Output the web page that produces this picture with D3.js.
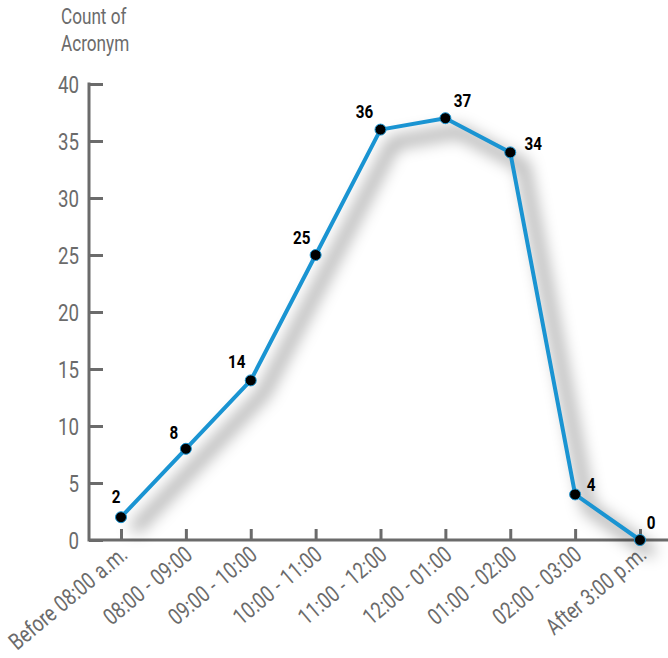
<!DOCTYPE html>
<html>
<head>
<meta charset="utf-8">
<script src="https://cdn.jsdelivr.net/npm/d3@7"></script>
<style>
  html, body { margin: 0; padding: 0; background: #fff; }
  svg { display: block; }
</style>
</head>
<body>
<svg id="chart" width="668" height="658"></svg>
<script>
// Time slots along the x axis
const categories = ["Before 08:00 a.m.", "08:00 - 09:00", "09:00 - 10:00", "10:00 - 11:00",
  "11:00 - 12:00", "12:00 - 01:00", "01:00 - 02:00", "02:00 - 03:00", "After 3:00 p.m."];
// Count of Acronym per slot
const counts = [2, 8, 14, 25, 36, 37, 34, 4, 0];
// Y axis ticks
const yTicks = [0, 5, 10, 15, 20, 25, 30, 35, 40];
// Offsets of each value label's baseline centre from its point
const labelOffsets = [[-5, -14], [-12, -10], [-14, -12], [-14, -11], [-16, -12],
  [17, -11], [23, -2], [16, -3], [11, -11]];

const svg = d3.select("#chart");
const font = "Roboto, 'DejaVu Sans', sans-serif";
const narrow = 0.78;           // horizontal squeeze for a condensed look
const axisColor = "#6b6b6b";

const x = d3.scalePoint().domain(categories).range([121, 640]);
const y = d3.scaleLinear().domain([0, 40]).range([540, 84]);

const defs = svg.append("defs");
const f = defs.append("filter").attr("id", "soft").attr("x", "-30%").attr("y", "-30%")
  .attr("width", "160%").attr("height", "160%");
f.append("feGaussianBlur").attr("stdDeviation", 8);

// Title
["Count of", "Acronym"].forEach((t, i) => {
  svg.append("text").attr("transform", `translate(61,${24 + i * 27}) scale(${narrow},1)`)
    .attr("font-family", font).attr("font-size", 22).attr("fill", axisColor).text(t);
});

// Y axis: ticks point inward
const yAxis = svg.append("g").attr("transform", "translate(89,0)")
  .call(d3.axisRight(y).tickValues(yTicks).tickSize(14).tickFormat(""));
yAxis.select(".domain").remove();
yAxis.selectAll("line").attr("stroke", axisColor).attr("stroke-width", 3);
svg.append("line").attr("x1", 89).attr("x2", 89).attr("y1", y(40) - 1.5).attr("y2", y(0) + 1.5)
  .attr("stroke", axisColor).attr("stroke-width", 3);
svg.selectAll(".ylab").data(yTicks).enter().append("text")
  .attr("transform", d => `translate(79,${y(d) + 8.5}) scale(${narrow},1)`)
  .attr("text-anchor", "end")
  .attr("font-family", font).attr("font-size", 24).attr("fill", axisColor)
  .text(d => d);

// X axis: ticks point up into the plot
const xAxis = svg.append("g").attr("transform", "translate(0,540)")
  .call(d3.axisTop(x).tickSize(11).tickFormat(""));
xAxis.select(".domain").remove();
xAxis.selectAll("line").attr("stroke", axisColor).attr("stroke-width", 3);
svg.append("line").attr("x1", 89).attr("x2", 668).attr("y1", 540).attr("y2", 540)
  .attr("stroke", axisColor).attr("stroke-width", 3);
svg.selectAll(".xlab").data(categories).enter().append("text")
  .attr("text-anchor", "end")
  .attr("transform", d => `translate(${x(d) + 8},${557}) rotate(-40) scale(0.8,1)`)
  .attr("font-family", font).attr("font-size", 23).attr("fill", axisColor)
  .attr("word-spacing", 1)
  .text(d => d);

const line = d3.line().x((d, i) => x(categories[i])).y(d => y(d));

// Soft drop shadow under the line
svg.append("path").datum(counts).attr("d", line)
  .attr("transform", "translate(13,13)")
  .attr("fill", "none").attr("stroke", "#000").attr("stroke-opacity", 0.38)
  .attr("stroke-width", 10).attr("stroke-linejoin", "round")
  .attr("filter", "url(#soft)");

// Series line
svg.append("path").datum(counts).attr("d", line)
  .attr("fill", "none").attr("stroke", "#1a94d2").attr("stroke-width", 4)
  .attr("stroke-linejoin", "round");

// Markers
svg.selectAll(".pt").data(counts).enter().append("circle")
  .attr("cx", (d, i) => x(categories[i])).attr("cy", d => y(d)).attr("r", 5.5)
  .attr("fill", "#000").attr("stroke", "#1a94d2").attr("stroke-width", 1);

// Value labels
svg.selectAll(".val").data(counts).enter().append("text")
  .attr("transform", (d, i) =>
    `translate(${x(categories[i]) + labelOffsets[i][0]},${y(d) + labelOffsets[i][1]}) scale(0.8,1)`)
  .attr("text-anchor", "middle")
  .attr("font-family", font).attr("font-size", 19).attr("font-weight", "bold").attr("fill", "#000")
  .text(d => d);
</script>
</body>
</html>
